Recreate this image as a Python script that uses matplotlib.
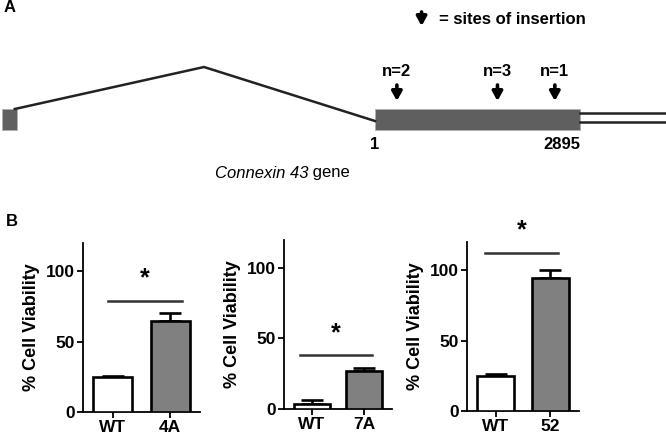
import matplotlib.pyplot as plt

plt.rcParams['font.family'] = ['Liberation Sans', 'DejaVu Sans']

# panel A: Connexin 43 gene (positions in bp, exon 2 coding region 1..2895)
exon1 = (-5265, -5054)
intron_peak = -2413
exon2 = (1, 2895)
utr_end = 4200
insertion_sites = [310, 1730, 2540]
insertion_counts = [2, 3, 1]

# panel B: % cell viability
groups = [["WT", "4A"], ["WT", "7A"], ["WT", "52"]]
means = [[24.5, 64.5], [3.3, 27.0], [25.0, 94.5]]
errors = [[1.0, 5.5], [3.0, 2.2], [1.0, 5.5]]
sig_y = [79, 38, 112.5]
sig_span = [(-0.09, 1.21), (-0.22, 1.14), (-0.19, 1.13)]

fig = plt.figure(figsize=(6.66, 4.36), dpi=100)

# ---- panel A (x in bp, y in pixels from top) ----
bp_per_px = 2894 / 205
ax_a = fig.add_axes([0, 0, 1, 1])
ax_a.set_xlim(1 - 375 * bp_per_px, 1 + 291 * bp_per_px)
ax_a.set_ylim(436, 0)
ax_a.axis('off')

box_top, box_bot = 109, 130
gray_box = '#5f5f5f'
ax_a.fill_between(exon1, box_top, box_bot, color=gray_box, ec='#b0b0b0', lw=0.6)
ax_a.fill_between(exon2, box_top, box_bot, color=gray_box, ec='#b0b0b0', lw=0.6)
ax_a.plot([exon1[1] - 30, intron_peak, exon2[0]], [box_top, 67, 121], color='#222222', lw=1.8)
ax_a.plot([exon2[1], utr_end], [113, 113], color='#222222', lw=1.8)
ax_a.plot([exon2[1], utr_end], [122.5, 122.5], color='#222222', lw=1.8)

arrow_props = dict(arrowstyle='-|>,head_length=0.45,head_width=0.25', lw=2.6,
                   color='black', shrinkA=0, shrinkB=0, mutation_scale=12)
for site, n in zip(insertion_sites, insertion_counts):
    ax_a.annotate('', xy=(site, 101), xytext=(site, 85), arrowprops=arrow_props)
    ax_a.text(site, 71, f"n={n}", ha='center', va='center', fontsize=12, fontweight='bold')

ax_a.text(exon2[0], 144, "1", ha='center', va='center', fontsize=12, fontweight='bold')
ax_a.text(exon2[1], 144, "2895", ha='right', va='center', fontsize=12, fontweight='bold')

# legend arrow
ax_a.annotate('', xy=(0.633, 1 - 26 / 436), xytext=(0.633, 1 - 12 / 436),
              xycoords='figure fraction', arrowprops=arrow_props)
fig.text(439 / 666, 1 - 19 / 436, "= sites of insertion", ha='left', va='center',
         fontsize=12, fontweight='bold')

t1 = fig.text(215 / 666, 1 - 173 / 436, "Connexin 43", ha='left', va='center',
              fontsize=12, style='italic')
ax_a.annotate(" gene", xy=(1, 0), xycoords=t1, va='bottom', ha='left', fontsize=12)

fig.text(4 / 666, 1 - 7 / 436, "A", ha='left', va='center', fontsize=12, fontweight='bold')
fig.text(6 / 666, 1 - 222 / 436, "B", ha='left', va='center', fontsize=12, fontweight='bold')

# ---- panel B ----
rects = [[0.1246, 0.055, 0.1757, 0.388],
         [0.4264, 0.062, 0.1622, 0.388],
         [0.7012, 0.057, 0.1682, 0.388]]

for i, rect in enumerate(rects):
    ax = fig.add_axes(rect)
    ax.bar([0, 1], means[i], width=0.68, color=['white', '#808080'],
           edgecolor='black', linewidth=1.9, zorder=3)
    ax.errorbar([0, 1], means[i], yerr=[[0, 0], errors[i]], fmt='none',
                ecolor='black', elinewidth=1.9, capsize=8, capthick=1.9, zorder=2)
    ax.plot(sig_span[i], [sig_y[i], sig_y[i]], color='#333333', lw=1.8, clip_on=False)
    ax.text(sum(sig_span[i]) / 2, sig_y[i] + 16, "*", ha='center', va='center',
            fontsize=18, fontweight='bold', clip_on=False)
    ax.set_xlim(-0.52, 1.52)
    ax.set_ylim(0, 120)
    ax.set_yticks([0, 50, 100])
    ax.set_xticks([0, 1])
    ax.set_xticklabels(groups[i])
    for s in ['top', 'right']:
        ax.spines[s].set_visible(False)
    for s in ['left', 'bottom']:
        ax.spines[s].set_linewidth(1.3)
    ax.tick_params(direction='out', length=4, width=1.3, labelsize=12.5, pad=2)
    for lab in ax.get_xticklabels() + ax.get_yticklabels():
        lab.set_fontweight('bold')
    ax.set_ylabel("% Cell Viability", fontsize=13, fontweight='bold', labelpad=4)
    ax.patch.set_alpha(0)

fig.savefig("out.png", dpi=100)
